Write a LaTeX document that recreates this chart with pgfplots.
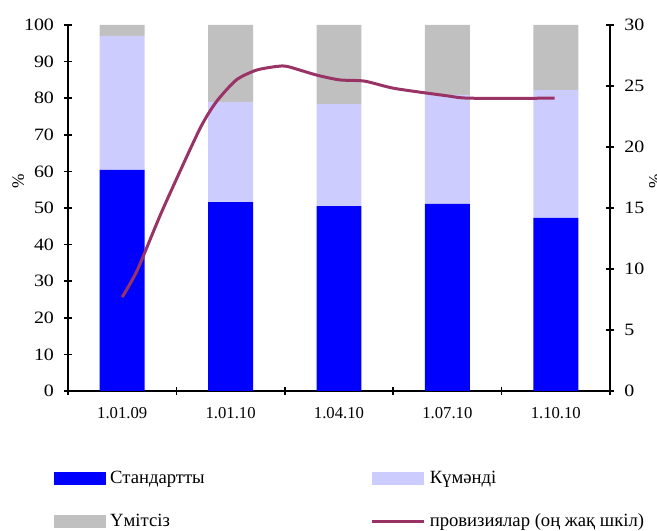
\documentclass[border=0pt]{standalone}
\usepackage{pgfplots}
\pgfplotsset{compat=1.18}
\usepackage{fontspec}
\setmainfont{Liberation Serif}
\newfontfamily\ytickfont{Liberation Serif}[FakeStretch=1.15]
\definecolor{cstd}{RGB}{0,0,255}
\definecolor{cdoubt}{RGB}{204,204,255}
\definecolor{cbad}{RGB}{192,192,192}
\definecolor{cprov}{RGB}{153,51,102}
\pgfplotsset{
  barlegend/.style={legend image code/.code={\fill[##1] (0pt,-4.75pt) rectangle (39pt,4.75pt); \path (40.5pt,0pt);}},
  linelegend/.style={legend image code/.code={\draw[##1] (0pt,0pt) -- (39pt,0pt); \path (40.5pt,0pt);}},
  common/.style={
    scale only axis, width=406.5pt, height=274.5pt,
    xmin=-0.5, xmax=4.5,
    tick align=center, major tick length=6pt,
    axis line style={line width=1.1pt},
    every tick/.style={line width=1.1pt, black},
    /pgf/number format/assume math mode=true,
    y tick label style={font=\ytickfont\fontsize{13pt}{15pt}\selectfont},
    ylabel style={font=\fontsize{13pt}{15pt}\selectfont},
  },
}
\begin{document}
\begin{tikzpicture}[font=\fontsize{14pt}{16.5pt}\selectfont]
\begin{axis}[common, name=main,
  ymin=0, ymax=100,
  ybar stacked, bar width=0.415,
  axis x line*=bottom, axis y line*=left,
  xtick={-0.5,0.5,1.5,2.5,3.5,4.5}, x tick label as interval,
  xticklabels={1.01.09,1.01.10,1.04.10,1.07.10,1.10.10},
  x tick label style={yshift=-6pt, font=\fontsize{12.5pt}{15pt}\selectfont},
  y tick label style={xshift=-4pt},
  ytick={0,10,...,100},
  ylabel={\%},
  ylabel style={at={(axis description cs:-0.092,0.574)}, anchor=center},
  legend columns=2,
  legend cell align=left,
  legend style={draw=none, fill=none, at={(axis description cs:-0.0346,-0.205)}, anchor=north west,
    /tikz/every even column/.append style={column sep=122pt},
    row sep=17pt},
]
\addplot[barlegend, fill=cstd, draw=none] coordinates {(0,60.4) (1,51.6) (2,50.5) (3,51.1) (4,47.3)};
\addlegendentry{Стандартты}
\addplot[barlegend, fill=cdoubt, draw=none] coordinates {(0,36.6) (1,27.4) (2,27.9) (3,29.8) (4,34.9)};
\addlegendentry{Күмәнді}
\addplot[barlegend, fill=cbad, draw=none] coordinates {(0,3.0) (1,21.0) (2,21.6) (3,19.1) (4,17.8)};
\addlegendentry{Үмітсіз}
\addlegendimage{linelegend, cprov, line width=2.25pt}
\addlegendentry{провизиялар (оң жақ шкіл)}
\end{axis}
\begin{axis}[common,
  ymin=0, ymax=30,
  axis y line*=right, axis x line=none,
  ytick={0,5,...,30},
  y tick label style={xshift=4.25pt},
  ylabel={\%},
  ylabel style={at={(axis description cs:1.083,0.574)}, anchor=center},
]
\addplot[cprov, line width=2.25pt, smooth, tension=0.4] coordinates {
(0,7.7) (0.139,9.9) (0.370,14.8) (0.711,21.4)
(0.868,23.7) (1.053,25.5) (1.238,26.3) (1.423,26.6) (1.524,26.6)
(1.792,25.9) (2.005,25.5) (2.236,25.4) (2.513,24.8) (2.993,24.2) (3.205,24.0) (3.99,24.0)};
\end{axis}
\pgfresetboundingbox
\useasboundingbox ([xshift=-51pt,yshift=-105pt]main.south west) rectangle ([xshift=441.75pt,yshift=293.25pt]main.south west);
\end{tikzpicture}
\end{document}
